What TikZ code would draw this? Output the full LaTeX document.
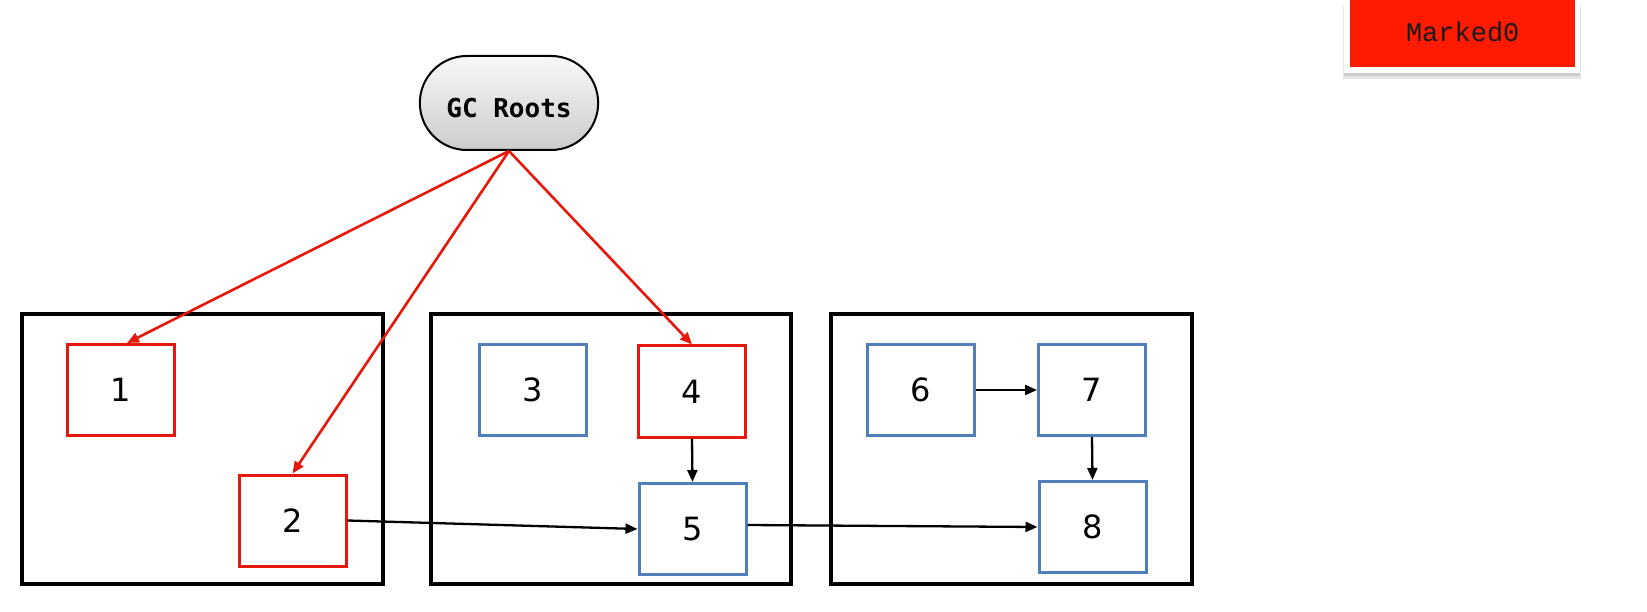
\documentclass[tikz,border=0pt]{standalone}
\usepackage{fontspec}
\newfontfamily\numfont{DejaVu Sans}
\newfontfamily\gcfont{DejaVu Sans Mono}
\newfontfamily\markfont{Liberation Mono}
\usetikzlibrary{arrows.meta,calc,shapes.misc}
\definecolor{objred}{RGB}{230,24,12}
\definecolor{objblue}{RGB}{79,126,187}
\definecolor{markred}{RGB}{255,26,0}
\tikzset{
  region/.style={draw=black,line width=4pt},
  obj/.style={draw,line width=3pt,minimum width=107pt,minimum height=91pt,inner sep=0pt,font=\numfont\fontsize{32}{32}\selectfont},
  marked/.style={obj,draw=objred},
  unmarked/.style={obj,draw=objblue},
  rootarrow/.style={draw=objred,line width=2.6pt,-{Triangle[length=12pt,width=10pt]}},
  refarrow/.style={draw=black,line width=2.3pt,-{Triangle[length=12pt,width=10pt]}},
}
\begin{document}
\begin{tikzpicture}[x=1pt,y=-1pt]
\useasboundingbox (0,0) rectangle (1647,612);
% legend
\fill[black!10] (1343,6) rectangle (1581,79);
\fill[black!20] (1344,6) rectangle (1580,76);
\fill[white] (1344,-5) rectangle (1580,73);
\node[fill=markred,minimum width=225pt,minimum height=70pt,inner sep=0pt,anchor=south west,font=\markfont\fontsize{27}{27}\selectfont,text=black!90] (legend) at (1350,67) {Marked0};
% GC roots
\node[draw=black,line width=2pt,rounded rectangle,top color=black!3,bottom color=black!20,minimum width=185pt,minimum height=94pt,text height=30pt,text depth=0pt,font=\gcfont\bfseries\fontsize{26}{26}\selectfont] (gc) at (509,103) {GC Roots};
% regions
\draw[region] (22,314) rectangle (383,584);
\draw[region] (431,314) rectangle (791,584);
\draw[region] (831,314) rectangle (1192,584);
% objects
\node[marked] (b1) at (121,390) {1};
\node[marked] (b2) at (292.5,520.5) {2};
\node[unmarked] (b3) at (532.5,390) {3};
\node[marked] (b4) at (692,391.5) {4};
\node[unmarked] (b5) at (692.5,529) {5};
\node[unmarked] (b6) at (921,390) {6};
\node[unmarked] (b7) at (1092,390) {7};
\node[unmarked] (b8) at (1092.5,527) {8};
% references
\draw[rootarrow] (gc.south) -- ($(b1.north)+(6,0)$);
\draw[rootarrow] (gc.south) -- (b2.north);
\draw[rootarrow] (gc.south) -- (b4.north);
\draw[refarrow] (b4.south) -- (b5.north);
\draw[refarrow] (b2.east) -- (b5.west);
\draw[refarrow] ($(b5.east)+(0,-4)$) -- (b8.west);
\draw[refarrow] (b6.east) -- (b7.west);
\draw[refarrow] (b7.south) -- (b8.north);
\end{tikzpicture}
\end{document}
